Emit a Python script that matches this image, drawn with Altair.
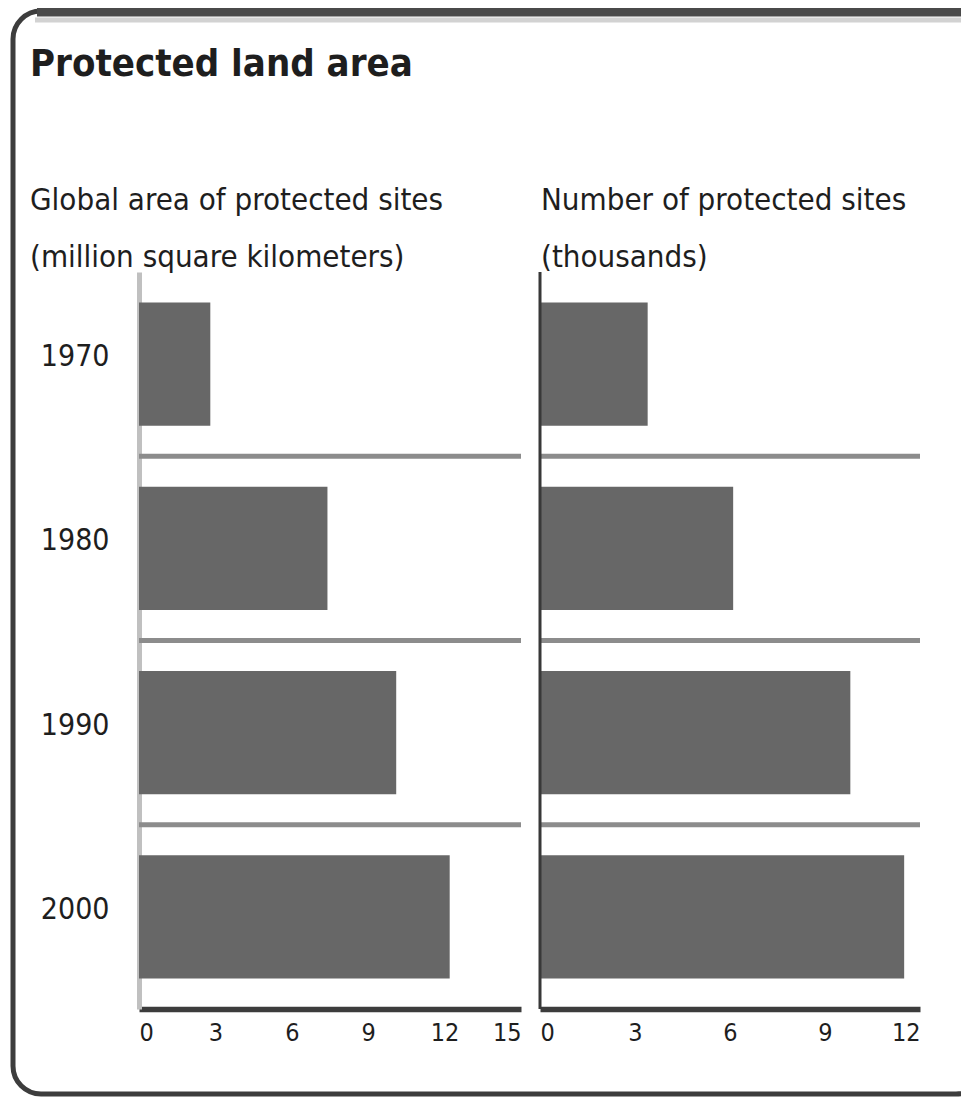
import altair as alt
import pandas as pd

# ---- data ----
years = ["1970", "1980", "1990", "2000"]
area_mkm2 = [2.8, 7.4, 10.1, 12.2]          # million square kilometers
sites_thousands = [3.4, 6.1, 9.8, 11.5]     # thousands of sites
area_ticks = [0, 3, 6, 9, 12, 15]
sites_ticks = [0, 3, 6, 9, 12]
title_text = "Protected land area"
left_sub = ["Global area of protected sites", "(million square kilometers)"]
right_sub = ["Number of protected sites", "(thousands)"]

FONT = "'DejaVu Sans Condensed', 'Liberation Sans', sans-serif"
BAR = "#676767"
SEP = "#8c8c8c"
AXIS_DARK = "#3c3c3c"
TXT = "#1e1e1e"

df = pd.DataFrame({"year": years, "area": area_mkm2, "sites": sites_thousands})
sep_df = df.iloc[:-1]
one = pd.DataFrame({"k": [0]})

W, H = 781, 737

yscale = alt.Scale(paddingInner=0, paddingOuter=0)
y_axis = alt.Axis(title=None, ticks=False, tickSize=0, grid=False,
                  domainColor="#c0c0c0", domainWidth=5, zindex=0,
                  labelFont=FONT, labelFontSize=30, labelColor=TXT,
                  labelPadding=30, labelOffset=-7, labelBaseline="middle")

x_left = alt.Scale(domain=[0, 15], range=[0, 382], nice=False, zero=True)
x_right = alt.Scale(domain=[0, 12], range=[401, 781], nice=False, zero=True)

def xaxis(vals):
    return alt.Axis(values=vals, title=None, ticks=False, tickSize=0, grid=False,
                    domainColor=AXIS_DARK, domainWidth=5.5, labelFlush=True,
                    labelPadding=11, labelFont=FONT, labelFontSize=25, format="d",
                    labelColor=TXT, orient="bottom", labelAngle=0)

def y_band(pos=None):
    if pos is None:
        return alt.Y("year:N", sort=years, scale=yscale, axis=y_axis)
    return alt.Y("year:N", sort=years, scale=yscale, axis=y_axis, bandPosition=pos)

bars_left = alt.Chart(df).mark_bar(color=BAR, height=alt.RelativeBandSize(band=0.67)).encode(
    x=alt.X("area:Q", scale=x_left, axis=xaxis(area_ticks)),
    y=y_band(),
)
seps_left = alt.Chart(sep_df).mark_rule(color=SEP, strokeWidth=5).encode(
    y=y_band(1),
    x=alt.datum(0),
    x2=alt.datum(15),
)
left = alt.layer(bars_left, seps_left)

bars_right = alt.Chart(df).mark_bar(color=BAR, height=alt.RelativeBandSize(band=0.67)).encode(
    x=alt.X("sites:Q", scale=x_right, axis=xaxis(sites_ticks)),
    y=y_band(),
)
seps_right = alt.Chart(sep_df).mark_rule(color=SEP, strokeWidth=5).encode(
    y=y_band(1),
    x=alt.datum(0),
    x2=alt.datum(12),
)
vline_right = alt.Chart(one).mark_rule(color="#383838", strokeWidth=3).encode(
    x=alt.datum(0),
)
right = alt.layer(bars_right, seps_right, vline_right)

# decorations: frame, title, panel headings
frame = alt.Chart(one).mark_rect(cornerRadius=28, stroke="#3d3d3d", strokeWidth=5,
                                 fill="transparent").encode(
    x=alt.value(-126), x2=alt.value(845), y=alt.value(-261), y2=alt.value(822))
top_bar = alt.Chart(one).mark_rule(color="#4a4a4a", strokeWidth=9).encode(
    x=alt.value(-102), x2=alt.value(845), y=alt.value(-260))
top_light = alt.Chart(one).mark_rule(color="#d2d2d2", strokeWidth=5).encode(
    x=alt.value(-104), x2=alt.value(845), y=alt.value(-252))

title = alt.Chart(one).mark_text(text=title_text, font=FONT, fontSize=38, fontWeight="bold",
                                 color=TXT, align="left", baseline="alphabetic").encode(
    x=alt.value(-109), y=alt.value(-196))
sub_left = alt.Chart(one).mark_text(text=left_sub, font=FONT, fontSize=31, lineHeight=57,
                                    color=TXT, align="left", baseline="alphabetic").encode(
    x=alt.value(-109), y=alt.value(-62))
sub_right = alt.Chart(one).mark_text(text=right_sub, font=FONT, fontSize=31, lineHeight=57,
                                     color=TXT, align="left", baseline="alphabetic").encode(
    x=alt.value(402), y=alt.value(-62))

chart = alt.layer(frame, top_bar, top_light, title, sub_left, sub_right, left, right).resolve_scale(
    x="independent"
).properties(
    width=W, height=H,
    autosize=alt.AutoSizeParams(type="none"),
    padding={"left": 131, "top": 264, "right": 41, "bottom": 88},
    background="white",
).configure_view(stroke=None)

chart.save("out.html", embed_options={"renderer": "svg", "actions": False})
